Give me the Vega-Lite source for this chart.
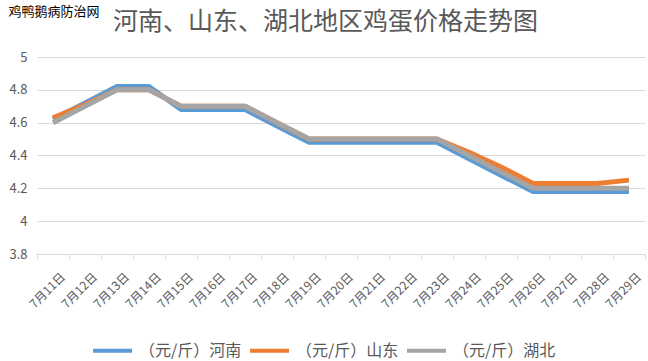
{
  "$schema": "https://vega.github.io/schema/vega-lite/v6.json",
  "width": 608,
  "height": 197,
  "autosize": {"type": "none"},
  "padding": {"left": 37, "top": 57, "right": 3, "bottom": 107},
  "background": "white",
  "title": {
    "text": "河南、山东、湖北地区鸡蛋价格走势图",
    "anchor": "start",
    "frame": "group",
    "dx": 76,
    "dy": 30,
    "offset": 0,
    "font": "Noto Sans CJK SC",
    "fontSize": 25,
    "fontWeight": "normal",
    "color": "#595959"
  },
  "config": {
    "view": {"stroke": null},
    "font": "Noto Sans CJK SC"
  },
  "data": {
    "values": [
      {"date": "7月11日", "series": "（元/斤）河南", "price": 4.62},
      {"date": "7月12日", "series": "（元/斤）河南", "price": 4.72},
      {"date": "7月13日", "series": "（元/斤）河南", "price": 4.82},
      {"date": "7月14日", "series": "（元/斤）河南", "price": 4.82},
      {"date": "7月15日", "series": "（元/斤）河南", "price": 4.68},
      {"date": "7月16日", "series": "（元/斤）河南", "price": 4.68},
      {"date": "7月17日", "series": "（元/斤）河南", "price": 4.68},
      {"date": "7月18日", "series": "（元/斤）河南", "price": 4.58},
      {"date": "7月19日", "series": "（元/斤）河南", "price": 4.48},
      {"date": "7月20日", "series": "（元/斤）河南", "price": 4.48},
      {"date": "7月21日", "series": "（元/斤）河南", "price": 4.48},
      {"date": "7月22日", "series": "（元/斤）河南", "price": 4.48},
      {"date": "7月23日", "series": "（元/斤）河南", "price": 4.48},
      {"date": "7月24日", "series": "（元/斤）河南", "price": 4.38},
      {"date": "7月25日", "series": "（元/斤）河南", "price": 4.28},
      {"date": "7月26日", "series": "（元/斤）河南", "price": 4.18},
      {"date": "7月27日", "series": "（元/斤）河南", "price": 4.18},
      {"date": "7月28日", "series": "（元/斤）河南", "price": 4.18},
      {"date": "7月29日", "series": "（元/斤）河南", "price": 4.18},
      {"date": "7月11日", "series": "（元/斤）山东", "price": 4.63},
      {"date": "7月12日", "series": "（元/斤）山东", "price": 4.71},
      {"date": "7月13日", "series": "（元/斤）山东", "price": 4.80},
      {"date": "7月14日", "series": "（元/斤）山东", "price": 4.80},
      {"date": "7月15日", "series": "（元/斤）山东", "price": 4.70},
      {"date": "7月16日", "series": "（元/斤）山东", "price": 4.70},
      {"date": "7月17日", "series": "（元/斤）山东", "price": 4.70},
      {"date": "7月18日", "series": "（元/斤）山东", "price": 4.60},
      {"date": "7月19日", "series": "（元/斤）山东", "price": 4.50},
      {"date": "7月20日", "series": "（元/斤）山东", "price": 4.50},
      {"date": "7月21日", "series": "（元/斤）山东", "price": 4.50},
      {"date": "7月22日", "series": "（元/斤）山东", "price": 4.50},
      {"date": "7月23日", "series": "（元/斤）山东", "price": 4.50},
      {"date": "7月24日", "series": "（元/斤）山东", "price": 4.42},
      {"date": "7月25日", "series": "（元/斤）山东", "price": 4.33},
      {"date": "7月26日", "series": "（元/斤）山东", "price": 4.23},
      {"date": "7月27日", "series": "（元/斤）山东", "price": 4.23},
      {"date": "7月28日", "series": "（元/斤）山东", "price": 4.23},
      {"date": "7月29日", "series": "（元/斤）山东", "price": 4.25},
      {"date": "7月11日", "series": "（元/斤）湖北", "price": 4.60},
      {"date": "7月12日", "series": "（元/斤）湖北", "price": 4.70},
      {"date": "7月13日", "series": "（元/斤）湖北", "price": 4.80},
      {"date": "7月14日", "series": "（元/斤）湖北", "price": 4.80},
      {"date": "7月15日", "series": "（元/斤）湖北", "price": 4.70},
      {"date": "7月16日", "series": "（元/斤）湖北", "price": 4.70},
      {"date": "7月17日", "series": "（元/斤）湖北", "price": 4.70},
      {"date": "7月18日", "series": "（元/斤）湖北", "price": 4.60},
      {"date": "7月19日", "series": "（元/斤）湖北", "price": 4.50},
      {"date": "7月20日", "series": "（元/斤）湖北", "price": 4.50},
      {"date": "7月21日", "series": "（元/斤）湖北", "price": 4.50},
      {"date": "7月22日", "series": "（元/斤）湖北", "price": 4.50},
      {"date": "7月23日", "series": "（元/斤）湖北", "price": 4.50},
      {"date": "7月24日", "series": "（元/斤）湖北", "price": 4.40},
      {"date": "7月25日", "series": "（元/斤）湖北", "price": 4.30},
      {"date": "7月26日", "series": "（元/斤）湖北", "price": 4.20},
      {"date": "7月27日", "series": "（元/斤）湖北", "price": 4.20},
      {"date": "7月28日", "series": "（元/斤）湖北", "price": 4.20},
      {"date": "7月29日", "series": "（元/斤）湖北", "price": 4.20}
    ]
  },
  "mark": {"type": "line", "strokeWidth": 5, "strokeCap": "butt", "strokeJoin": "round"},
  "encoding": {
    "x": {
      "field": "date",
      "type": "nominal",
      "sort": "ascending",
      "scale": {"type": "band", "paddingInner": 0, "paddingOuter": 0},
      "axis": {
        "title": null,
        "tickBand": "extent",
        "labelAngle": -45,
        "labelFontSize": 12,
        "labelColor": "#595959",
        "labelPadding": 12,
        "labelOffset": 6,
        "domainColor": "#d9d9d9",
        "tickColor": "#d9d9d9",
        "tickSize": 5,
        "grid": false
      }
    },
    "y": {
      "field": "price",
      "type": "quantitative",
      "scale": {"domain": [3.8, 5], "nice": false, "zero": false},
      "axis": {
        "values": [3.8, 4, 4.2, 4.4, 4.6, 4.8, 5],
        "format": ".1~f",
        "title": "鸡鸭鹅病防治网",
        "titleAngle": 0,
        "titleAlign": "left",
        "titleBaseline": "middle",
        "titleX": -29,
        "titleY": -46,
        "titleFontSize": 13,
        "titleFontWeight": "normal",
        "titleColor": "#000000",
        "domain": false,
        "ticks": false,
        "labelPadding": 10,
        "labelFontSize": 13,
        "labelColor": "#595959",
        "gridColor": "#d9d9d9",
        "gridWidth": 1
      }
    },
    "color": {
      "field": "series",
      "type": "nominal",
      "scale": {
        "domain": ["（元/斤）河南", "（元/斤）山东", "（元/斤）湖北"],
        "range": ["#5B9BD5", "#ED7D31", "#A5A5A5"]
      },
      "legend": {
        "title": null,
        "orient": "none",
        "legendX": 54,
        "legendY": 272,
        "direction": "horizontal",
        "symbolType": "stroke",
        "symbolSize": 1521,
        "symbolStrokeWidth": 4,
        "labelFontSize": 16,
        "labelColor": "#595959",
        "labelOffset": 5,
        "columnPadding": 0
      }
    }
  }
}
